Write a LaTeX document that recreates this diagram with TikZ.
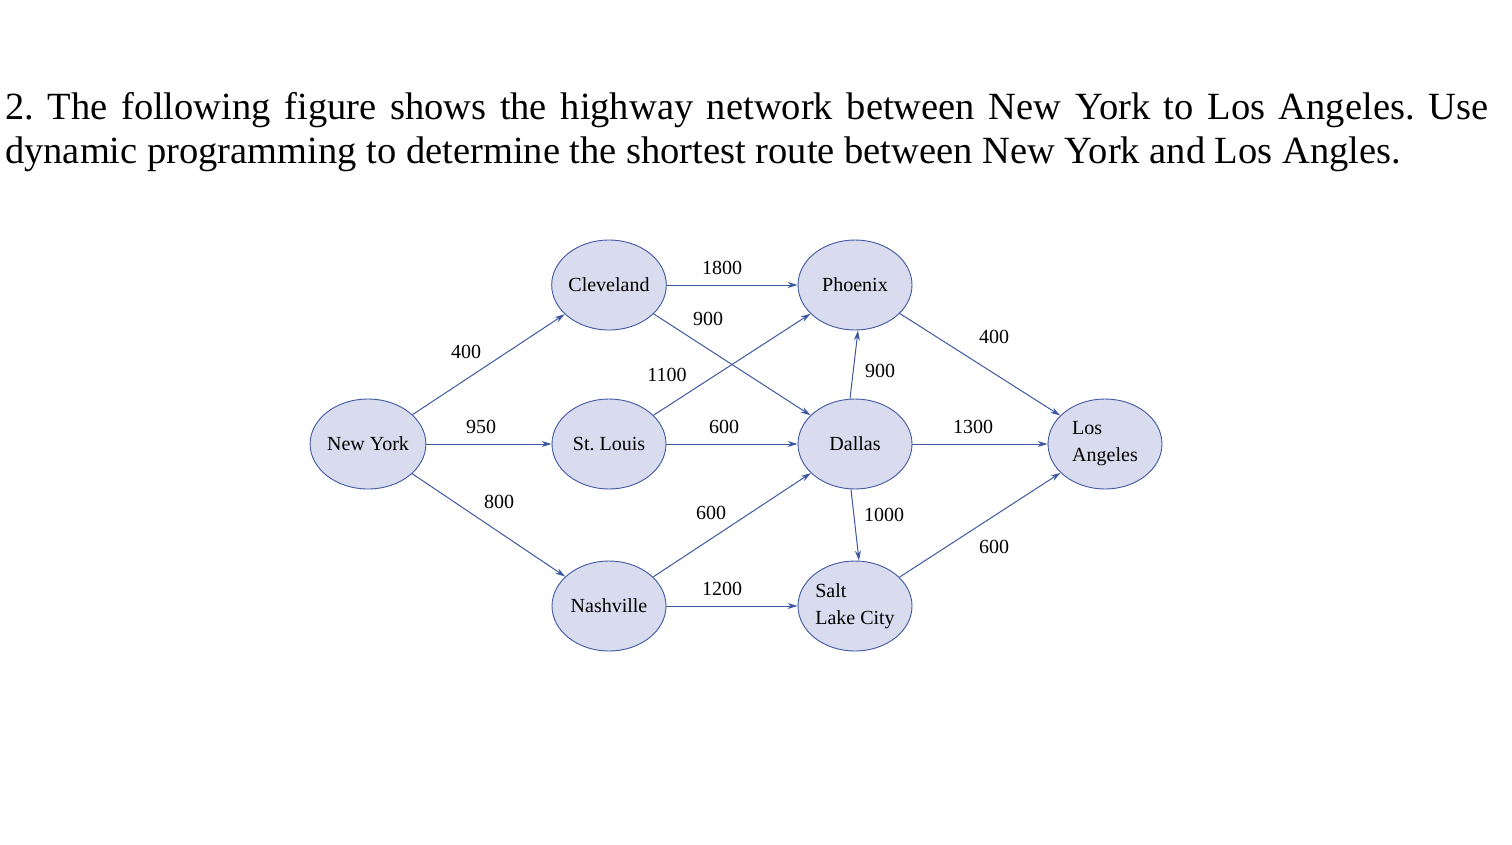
\documentclass[tikz,border=0pt]{standalone}
\usepackage{fontspec}
\setmainfont{Liberation Serif}
\usetikzlibrary{shapes.geometric,arrows.meta}
\definecolor{cfill}{HTML}{D9DBEE}
\definecolor{cline}{HTML}{3D58A0}
\begin{document}
\frenchspacing
\begin{tikzpicture}[x=1pt,y=-1pt,
 city/.style={ellipse,draw=cline,fill=cfill,line width=0.9pt,minimum width=114pt,minimum height=90pt,inner sep=0pt,font=\fontsize{20}{27}\selectfont,align=left},
 road/.style={draw=cline,line width=1pt,-{Stealth[length=10pt,width=6pt]}},
 lab/.style={font=\fontsize{20}{24}\selectfont,inner sep=0pt}]
\useasboundingbox (0,0) rectangle (1512,844);
\node[anchor=north west,inner sep=0pt,text width=1483pt,align=justify,font=\fontsize{38.5}{44}\selectfont] (txt) at (5,92) {2. The following figure shows the highway network between New York to Los Angeles. Use\linebreak dynamic programming to determine the shortest route between New York and Los Angles.};
\node[city] (ny) at (368,444) {New York};
\node[city] (cl) at (609,285) {Cleveland};
\node[city] (ph) at (855,285) {Phoenix};
\node[city] (sl) at (609,444) {St. Louis};
\node[city] (da) at (855,444) {Dallas};
\node[city] (la) at (1105,444) {Los\\Angeles};
\node[city] (na) at (609,606) {Nashville};
\node[city] (sc) at (855,606) {Salt\\Lake City};
\draw[road] (ny) -- (cl);
\draw[road] (ny) -- (sl);
\draw[road] (ny) -- (na);
\draw[road] (cl) -- (ph);
\draw[road] (cl) -- (da);
\draw[road] (sl) -- (ph);
\draw[road] (sl) -- (da);
\draw[road] (na) -- (da);
\draw[road] (na) -- (sc);
\draw[road] ([xshift=-5pt]da.north) -- ([xshift=3pt]ph.south);
\draw[road] ([xshift=-4pt]da.south) -- ([xshift=4pt]sc.north);
\draw[road] (da) -- (la);
\draw[road] (ph) -- (la);
\draw[road] (sc) -- (la);
\node[lab] (l1) at (722,268) {1800};
\node[lab] (l2) at (708,319) {900};
\node[lab] (l3) at (466,352) {400};
\node[lab] (l4) at (667,375) {1100};
\node[lab] (l5) at (481,427) {950};
\node[lab] (l6) at (724,427) {600};
\node[lab] (l7) at (499,502) {800};
\node[lab] (l8) at (711,513) {600};
\node[lab] (l9) at (722,589) {1200};
\node[lab] (l10) at (994,337) {400};
\node[lab] (l11) at (880,371) {900};
\node[lab] (l12) at (973,427) {1300};
\node[lab] (l13) at (884,515) {1000};
\node[lab] (l14) at (994,547) {600};
\end{tikzpicture}
\end{document}
